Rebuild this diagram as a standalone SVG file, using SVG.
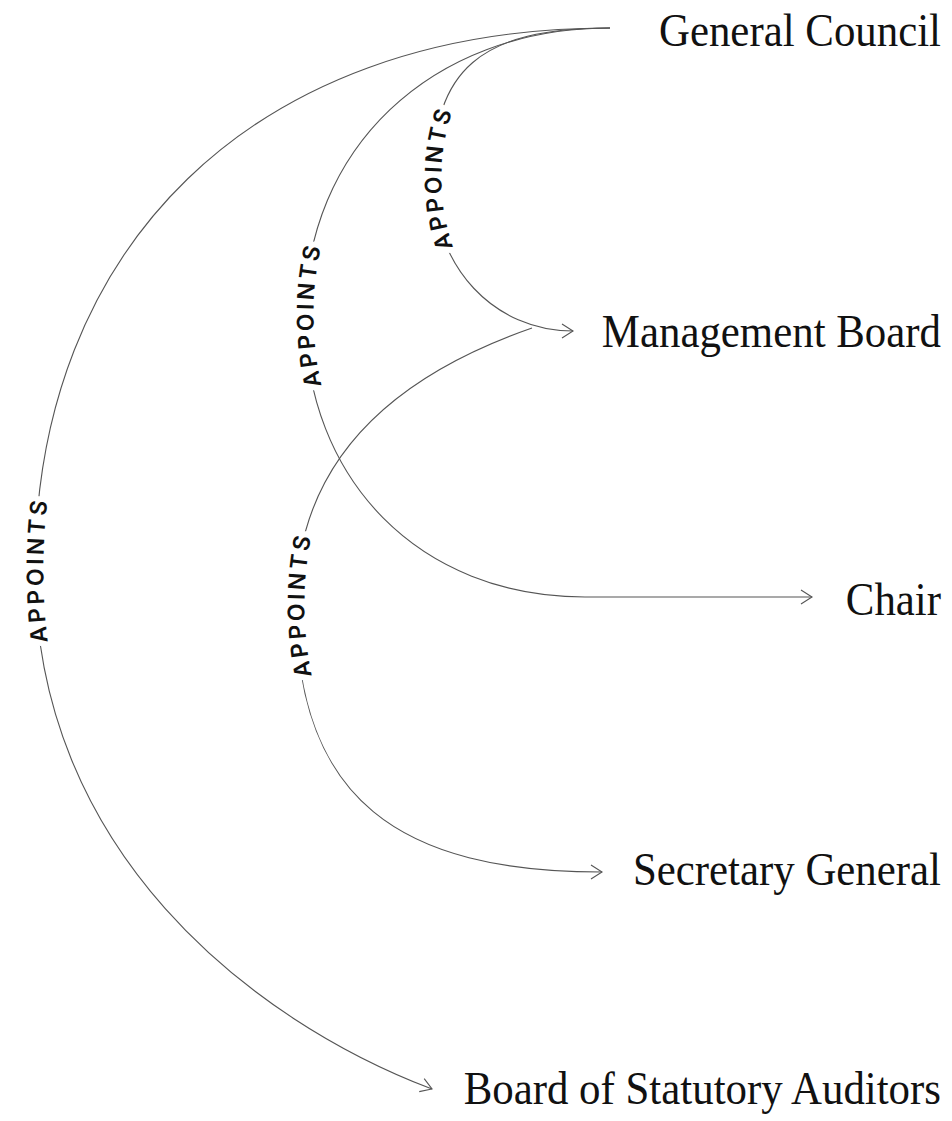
<svg xmlns="http://www.w3.org/2000/svg" width="952" height="1121" viewBox="0 0 952 1121">
<style>
.node text{font-family:"Liberation Serif","Times New Roman",serif;font-size:47px;fill:#111;text-anchor:end}
.edge{fill:none;stroke:#555;stroke-width:1.1;marker-end:url(#arr)}
.lbl{font-family:Inter,"Liberation Sans",sans-serif;font-size:23px;font-weight:600;letter-spacing:3.5px;fill:#111;stroke:#fff;stroke-width:12;stroke-linejoin:round;paint-order:stroke}
</style>
<defs>
<marker id="arr" markerUnits="userSpaceOnUse" markerWidth="30" markerHeight="30" viewBox="-15 -15 30 30" refX="0" refY="0" orient="auto">
<path d="M-11,-7 L0,0 L-11,7" fill="none" stroke="#555" stroke-width="1.1"/>
</marker>
<path id="lp1" d="M462.5,288 A220,220 0 0 1 462.5,68"/>
<path id="lp2" d="M328.4,435 A320,320 0 0 1 328.4,195"/>
<path id="lp3" d="M317.2,725 A350,350 0 0 1 317.2,485"/>
<path id="lp4" d="M54,720 A600,600 0 0 1 54,420"/>
</defs>
<rect width="952" height="1121" fill="#fff"/>
<g id="connectors">
<path class="edge" d="M610,28 C480,28 433,70 433,178 C433,268 495,331 573,331"/>
<path class="edge" d="M610,28 C430,28 305,150 305,315 C305,480 420,597 585,597 L812,597"/>
<path class="edge" d="M532,328 C440,360 296,430 296,605 C296,800 400,872 602,872"/>
<path class="edge" d="M610,28 C250,28 35,250 35,570 C35,850 250,1020 432,1089"/>
<text class="lbl" dy="8.4"><textPath href="#lp1" startOffset="50%" text-anchor="middle">APPOINTS</textPath></text>
<text class="lbl" dy="8.4"><textPath href="#lp2" startOffset="50%" text-anchor="middle">APPOINTS</textPath></text>
<text class="lbl" dy="8.4"><textPath href="#lp3" startOffset="50%" text-anchor="middle">APPOINTS</textPath></text>
<text class="lbl" dy="8.4"><textPath href="#lp4" startOffset="50%" text-anchor="middle">APPOINTS</textPath></text>
</g>
<g id="general-council" class="node" transform="translate(941,46) scale(0.912,1)"><text x="0" y="0">General Council</text></g>
<g id="management-board" class="node" transform="translate(941,347) scale(0.912,1)"><text x="0" y="0">Management Board</text></g>
<g id="chair" class="node" transform="translate(941,615) scale(0.912,1)"><text x="0" y="0">Chair</text></g>
<g id="secretary-general" class="node" transform="translate(941,885) scale(0.912,1)"><text x="0" y="0">Secretary General</text></g>
<g id="board-of-statutory-auditors" class="node" transform="translate(941,1104) scale(0.912,1)"><text x="0" y="0">Board of Statutory Auditors</text></g>
</svg>
